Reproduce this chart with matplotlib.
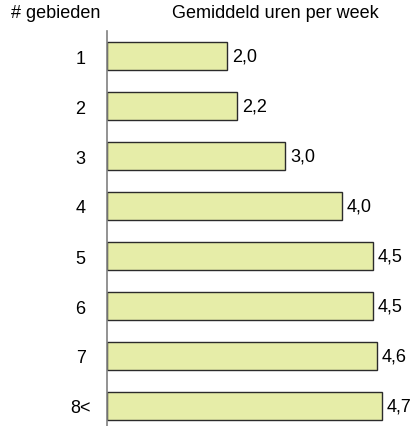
import matplotlib
matplotlib.use("Agg")
from matplotlib import pyplot as plt

plt.rcParams['font.family'] = ['Liberation Sans', 'DejaVu Sans']

categories = ["1", "2", "3", "4", "5", "6", "7", "8<"]
hours = [2.04, 2.20, 3.02, 3.98, 4.51, 4.51, 4.58, 4.66]
value_labels = ["2,0", "2,2", "3,0", "4,0", "4,5", "4,5", "4,6", "4,7"]

W, H = 414, 427
fig = plt.figure(figsize=(W / 100, H / 100), dpi=100)
# axis line runs from y=32 px down past the bottom edge
ax = fig.add_axes([107 / W, -5 / H, 295 / W, 400 / H])

pos = list(range(len(categories)))
bars = ax.barh(pos, hours, height=0.56, color='#E6EDA8', edgecolor='#2b2b2b', linewidth=1.0)
ax.bar_label(bars, labels=value_labels, padding=3.5, fontsize=13)

ax.set_xlim(0, 5)
ax.set_ylim(7.5, -0.5)
ax.set_yticks(pos)
ax.set_yticklabels(categories, fontsize=13)
for lbl in ax.get_yticklabels():
    lbl.set_horizontalalignment('center')
ax.tick_params(axis='y', length=0, pad=19)
ax.set_xticks([])

for side in ['top', 'right', 'bottom']:
    ax.spines[side].set_visible(False)
ax.spines['left'].set_color('#808080')
ax.spines['left'].set_linewidth(1.2)

fig.text(56 / W, 1 - 14 / H, "# gebieden", ha='center', va='center', fontsize=13)
fig.text(275 / W, 1 - 14 / H, "Gemiddeld uren per week", ha='center', va='center', fontsize=13)

fig.savefig("out.png", dpi=100)
